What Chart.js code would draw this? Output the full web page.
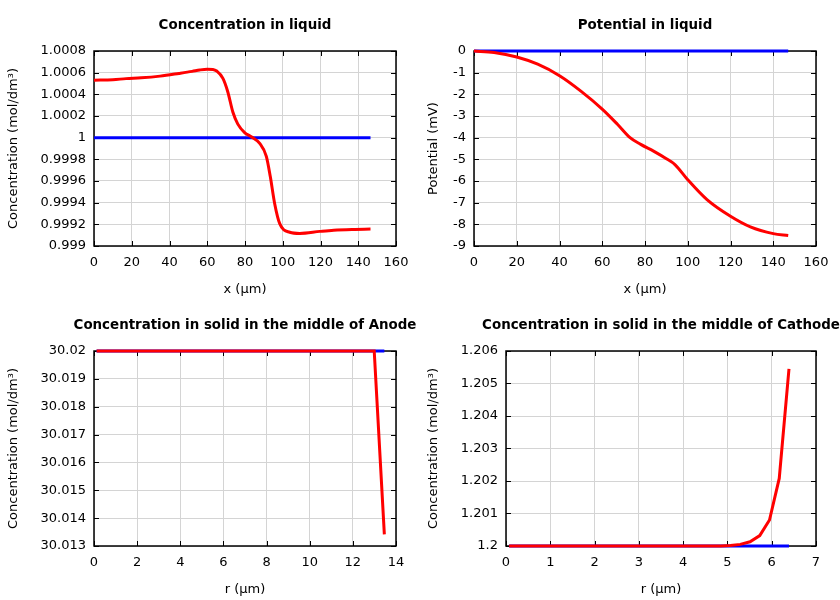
<!DOCTYPE html>
<html><head><meta charset="utf-8">
<script src="https://cdn.jsdelivr.net/npm/chart.js@4/dist/chart.umd.min.js"></script>
<style>
html,body{margin:0;padding:0;background:#fff;}
#wrap{position:relative;width:840px;height:600px;overflow:hidden;background:#fff;}
#wrap canvas{position:absolute;}
</style></head>
<body>
<div id="wrap">
<canvas id="c1" width="420" height="300" style="left:0;top:0"></canvas>
<canvas id="c2" width="420" height="300" style="left:420px;top:0"></canvas>
<canvas id="c3" width="420" height="300" style="left:0;top:300px"></canvas>
<canvas id="c4" width="420" height="300" style="left:420px;top:300px"></canvas>
</div>
<script>
// ---------- data ----------
// Panel 1: Concentration in liquid
const liqX  = [0, 10, 17, 25, 35, 45, 52, 56, 60, 63, 65, 68.3, 70.9, 73.6, 76.2, 79.8, 83.3, 87.8, 91.3, 93.4, 95.7, 98.4, 103.7, 109, 119.7, 127, 137, 146.5];
const liqC  = [1.000531, 1.000535, 1.000545, 1.000552, 1.000568, 1.000593, 1.000612, 1.000625, 1.000632, 1.00063, 1.000615, 1.000547, 1.000422, 1.000234, 1.000125, 1.000047, 1.000009, 0.999947, 0.999828, 0.999641, 0.999393, 0.999206, 0.999127, 0.999116, 0.999135, 0.999146, 0.999153, 0.999156];
const liqX0 = [0, 146.5];
const liqC0 = [1, 1];
const p1XTicks  = [0, 20, 40, 60, 80, 100, 120, 140, 160];
const p1XLabels = ['0','20','40','60','80','100','120','140','160'];
const p1YTicks  = [0.999, 0.9992, 0.9994, 0.9996, 0.9998, 1, 1.0002, 1.0004, 1.0006, 1.0008];
const p1YLabels = ['0.999','0.9992','0.9994','0.9996','0.9998','1','1.0002','1.0004','1.0006','1.0008'];

// Panel 2: Potential in liquid
const potX  = [0, 9.4, 20, 29.8, 40.2, 50, 60.1, 67.1, 73, 78, 84.2, 90, 94, 100, 109, 120, 129.3, 140, 147];
const potV  = [0, -0.07, -0.28, -0.61, -1.15, -1.85, -2.69, -3.38, -4.0, -4.31, -4.63, -4.97, -5.24, -5.94, -6.86, -7.63, -8.12, -8.43, -8.52];
const potX0 = [0, 147];
const potV0 = [0, 0];
const p2XTicks  = [0, 20, 40, 60, 80, 100, 120, 140, 160];
const p2XLabels = ['0','20','40','60','80','100','120','140','160'];
const p2YTicks  = [-9, -8, -7, -6, -5, -4, -3, -2, -1, 0];
const p2YLabels = ['-9','-8','-7','-6','-5','-4','-3','-2','-1','0'];

// Panel 3: Concentration in solid in the middle of Anode
const anR  = [0.12, 12.99, 13.46];
const anC  = [30.02, 30.02, 30.01342];
const anR0 = [0.12, 13.46];
const anC0 = [30.02, 30.02];
const p3XTicks  = [0, 2, 4, 6, 8, 10, 12, 14];
const p3XLabels = ['0','2','4','6','8','10','12','14'];
const p3YTicks  = [30.013, 30.014, 30.015, 30.016, 30.017, 30.018, 30.019, 30.02];
const p3YLabels = ['30.013','30.014','30.015','30.016','30.017','30.018','30.019','30.02'];

// Panel 4: Concentration in solid in the middle of Cathode
const caR  = [0.07, 4.63, 4.85, 5.07, 5.29, 5.51, 5.73, 5.95, 6.17, 6.39];
const caC  = [1.2, 1.2, 1.200003, 1.200013, 1.20005, 1.20013, 1.20032, 1.2008, 1.20208, 1.20545];
const caR0 = [0.07, 6.39];
const caC0 = [1.2, 1.2];
const p4XTicks  = [0, 1, 2, 3, 4, 5, 6, 7];
const p4XLabels = ['0','1','2','3','4','5','6','7'];
const p4YTicks  = [1.2, 1.201, 1.202, 1.203, 1.204, 1.205, 1.206];
const p4YLabels = ['1.2','1.201','1.202','1.203','1.204','1.205','1.206'];

// ---------- rendering ----------
Chart.defaults.font.family = "'DejaVu Sans', sans-serif";
Chart.defaults.font.size = 13;
Chart.defaults.color = '#000';

const framePlugin = {
  id: 'frame',
  beforeDatasetsDraw(chart, args, opts) {
    const {ctx, chartArea: a, scales: {x, y}} = chart;
    ctx.save();
    ctx.strokeStyle = '#000';
    ctx.lineWidth = 1;
    ctx.beginPath();
    const tl = 5;
    x.ticks.forEach(t => {
      const px = Math.round(x.getPixelForValue(t.value)) + 0.5;
      ctx.moveTo(px, a.bottom); ctx.lineTo(px, a.bottom - tl);
      ctx.moveTo(px, a.top); ctx.lineTo(px, a.top + tl);
    });
    y.ticks.forEach(t => {
      const py = Math.round(y.getPixelForValue(t.value)) + 0.5;
      ctx.moveTo(a.left, py); ctx.lineTo(a.left + tl, py);
      ctx.moveTo(a.right, py); ctx.lineTo(a.right - tl, py);
    });
    ctx.stroke();
    ctx.lineWidth = 1.5;
    ctx.strokeRect(a.left, a.top, a.right - a.left, a.bottom - a.top);
    ctx.restore();
  },
  afterDraw(chart, args, opts) {
    const {ctx, chartArea: a} = chart;
    ctx.save();
    ctx.font = "bold 13.4px 'DejaVu Sans', sans-serif";
    ctx.fillStyle = '#000';
    ctx.textAlign = 'center';
    ctx.textBaseline = 'middle';
    ctx.fillText(opts.title, (a.left + a.right) / 2, 26);
    ctx.restore();
  }
};

function pts(xs, ys) { return xs.map((x, i) => ({x: x, y: ys[i]})); }

function makeChart(id, cfg) {
  const yw = cfg.yWidth;
  new Chart(document.getElementById(id), {
    type: 'line',
    data: {
      datasets: [
        {data: pts(cfg.x, cfg.y), borderColor: '#ff0000', borderWidth: 3, pointRadius: 0, clip: 6,
         fill: false, cubicInterpolationMode: cfg.smooth ? 'monotone' : 'default', tension: 0},
        {data: pts(cfg.x0, cfg.y0), borderColor: '#0000ff', borderWidth: 3, pointRadius: 0, clip: 6,
         fill: false, tension: 0}
      ]
    },
    options: {
      responsive: false,
      animation: false,
      events: [],
      layout: {padding: {left: 0, right: 24, top: 51, bottom: 0}},
      plugins: {
        legend: {display: false},
        tooltip: {enabled: false},
        title: {display: false},
        frame: {title: cfg.title}
      },
      scales: {
        x: {
          type: 'linear',
          min: cfg.xTicks[0], max: cfg.xTicks[cfg.xTicks.length - 1],
          afterBuildTicks: s => { s.ticks = cfg.xTicks.map(v => ({value: v})); },
          afterFit: s => { s.height = 54; },
          ticks: {autoSkip: false, maxRotation: 0, padding: 9,
                  callback: (v, i) => cfg.xLabels[i]},
          grid: {color: '#d4d4d4', lineWidth: 1, drawTicks: false},
          border: {display: false},
          title: {display: true, text: cfg.xTitle, padding: {top: 0, bottom: 3}}
        },
        y: {
          type: 'linear',
          min: cfg.yTicks[0], max: cfg.yTicks[cfg.yTicks.length - 1],
          afterBuildTicks: s => { s.ticks = cfg.yTicks.map(v => ({value: v})); },
          afterFit: s => { s.width = yw; },
          ticks: {autoSkip: false, padding: 8,
                  callback: (v, i) => cfg.yLabels[i]},
          grid: {color: '#d4d4d4', lineWidth: 1, drawTicks: false},
          border: {display: false},
          title: {display: true, text: cfg.yTitle, padding: {top: 6, bottom: 0}}
        }
      }
    },
    plugins: [framePlugin]
  });
}

makeChart('c1', {title: 'Concentration in liquid', x: liqX, y: liqC, x0: liqX0, y0: liqC0, smooth: true,
  xTicks: p1XTicks, xLabels: p1XLabels, yTicks: p1YTicks, yLabels: p1YLabels,
  xTitle: 'x (µm)', yTitle: 'Concentration (mol/dm³)', yWidth: 94});
makeChart('c2', {title: 'Potential in liquid', x: potX, y: potV, x0: potX0, y0: potV0, smooth: true,
  xTicks: p2XTicks, xLabels: p2XLabels, yTicks: p2YTicks, yLabels: p2YLabels,
  xTitle: 'x (µm)', yTitle: 'Potential (mV)', yWidth: 54});
makeChart('c3', {title: 'Concentration in solid in the middle of Anode', x: anR, y: anC, x0: anR0, y0: anC0, smooth: false,
  xTicks: p3XTicks, xLabels: p3XLabels, yTicks: p3YTicks, yLabels: p3YLabels,
  xTitle: 'r (µm)', yTitle: 'Concentration (mol/dm³)', yWidth: 94});
makeChart('c4', {title: 'Concentration in solid in the middle of Cathode', x: caR, y: caC, x0: caR0, y0: caC0, smooth: false,
  xTicks: p4XTicks, xLabels: p4XLabels, yTicks: p4YTicks, yLabels: p4YLabels,
  xTitle: 'r (µm)', yTitle: 'Concentration (mol/dm³)', yWidth: 86});
</script>
</body></html>
